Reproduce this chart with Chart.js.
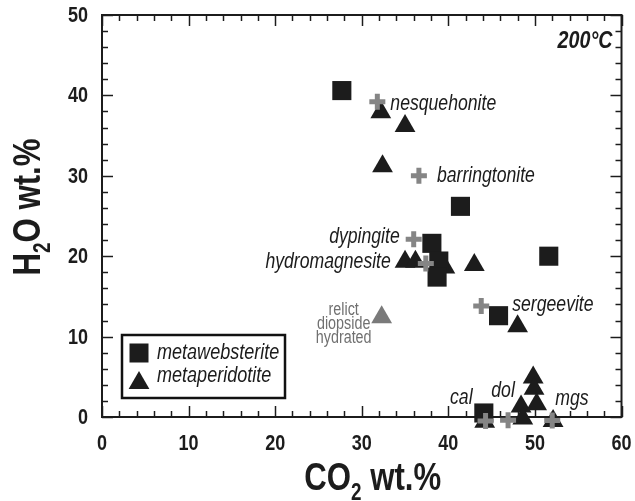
<!DOCTYPE html>
<html>
<head>
<meta charset="utf-8">
<script src="https://cdn.jsdelivr.net/npm/chart.js@4.4.0/dist/chart.umd.min.js"></script>
<style>
  html, body { margin: 0; padding: 0; background: #fff; }
</style>
</head>
<body>
<canvas id="chart" width="635" height="501"></canvas>
<script>
/* CO2 vs H2O, 200 °C run products */

// axis ranges / tick labels
const xTicks = [0, 10, 20, 30, 40, 50, 60];
const yTicks = [0, 10, 20, 30, 40, 50];
const minorStep = 2;

// metawebsterite (squares)
const websteriteCO2 = [27.7, 41.4, 38.1, 38.9, 38.7, 51.6, 45.8, 44.1];
const websteriteH2O = [40.6, 26.2, 21.6, 19.4, 17.4, 20.0, 12.6, 0.5];

// metaperidotite (triangles)
const peridotiteCO2 = [32.2, 35.0, 32.4, 35.0, 36.2, 39.6, 43.0, 48.0, 49.8, 49.9, 48.4, 48.6, 50.2, 52.1, 44.2];
const peridotiteH2O = [37.9, 36.2, 31.2, 19.3, 19.3, 18.6, 18.9, 11.3, 4.9, 3.5, 1.3, -0.2, 1.6, -0.5, -0.6];

// reference minerals (grey crosses)
const mineralNames = ['nesquehonite', 'barringtonite', 'dypingite', 'hydromagnesite', 'sergeevite', 'cal', 'dol', 'mgs'];
const mineralCO2 = [31.8, 36.6, 36.0, 37.4, 43.8, 44.3, 46.9, 52.0];
const mineralH2O = [39.2, 30.0, 22.1, 19.1, 13.8, -0.5, -0.4, -0.45];

// relict diopside, hydrated (grey triangle)
const relictCO2 = [32.3];
const relictH2O = [12.4];
const relictLines = ['relict', 'diopside', 'hydrated'];

const seriesNames = ['metawebsterite', 'metaperidotite'];
const tempLabel = '200°C';

// label placement relative to each cross (pixels)
const labelPos = {
  nesquehonite:   { dx: 13,  dy: 8,   align: 'left' },
  barringtonite:  { dx: 18,  dy: 6,   align: 'left' },
  dypingite:      { dx: -14, dy: 4,   align: 'right' },
  hydromagnesite: { dx: -35, dy: 5,   align: 'right' },
  sergeevite:     { dx: 31,  dy: 5,   align: 'left' },
  cal:            { dx: -13, dy: -17, align: 'right' },
  dol:            { dx: -5,  dy: -23, align: 'center' },
  mgs:            { dx: 3,   dy: -16, align: 'left' },
};

const FONT = "'Liberation Sans',Arial,sans-serif";
const NARROW = 0.82;   // Helvetica-narrow look
const INK = '#1c1c1c';
const GREY = '#858585';

function pts(xs, ys){ return xs.map((x, i) => ({ x, y: ys[i] })); }

// condensed text: squeeze horizontally around the anchor
function nText(ctx, text, x, y, align, base){
  ctx.save();
  ctx.translate(x, y);
  ctx.scale(NARROW, 1);
  ctx.textAlign = align || 'left';
  ctx.textBaseline = base || 'alphabetic';
  ctx.fillText(text, 0, 0);
  ctx.restore();
}

function drawSquare(ctx, x, y, side){
  ctx.fillRect(x - side/2, y - side/2, side, side);
}
function drawTri(ctx, x, y, r){
  ctx.beginPath();
  ctx.moveTo(x, y - r);
  ctx.lineTo(x + r*Math.sin(Math.PI/3), y + r/2);
  ctx.lineTo(x - r*Math.sin(Math.PI/3), y + r/2);
  ctx.closePath();
  ctx.fill();
}

// text with a subscript part: [main, sub, rest], centred on cx
function subText(ctx, parts, cx, base, big, small){
  ctx.font = `bold ${big}px ${FONT}`;
  const w0 = ctx.measureText(parts[0]).width * NARROW;
  const w2 = ctx.measureText(parts[2]).width * NARROW;
  ctx.font = `bold ${small}px ${FONT}`;
  const w1 = ctx.measureText(parts[1]).width * NARROW;
  let x = cx - (w0 + w1 + w2)/2;
  ctx.font = `bold ${big}px ${FONT}`;
  nText(ctx, parts[0], x, base); x += w0;
  ctx.font = `bold ${small}px ${FONT}`;
  nText(ctx, parts[1], x, base + 10); x += w1;
  ctx.font = `bold ${big}px ${FONT}`;
  nText(ctx, parts[2], x, base);
}

const framePlugin = {
  id: 'frame',
  beforeDatasetsDraw(chart){
    const { ctx, chartArea: a, scales: { x: xs, y: ys } } = chart;
    ctx.save();
    ctx.strokeStyle = INK;
    ctx.lineWidth = 1.5;
    const line = (x1, y1, x2, y2) => { ctx.beginPath(); ctx.moveTo(x1, y1); ctx.lineTo(x2, y2); ctx.stroke(); };
    const xMax = xTicks[xTicks.length-1], yMax = yTicks[yTicks.length-1];
    const xMajor = xTicks[1] - xTicks[0], yMajor = yTicks[1] - yTicks[0];
    for (let v = xTicks[0]; v <= xMax; v += minorStep) {
      const len = v % xMajor === 0 ? 11 : 6;
      const p = Math.round(xs.getPixelForValue(v)) + 0.5;
      line(p, a.bottom, p, a.bottom - len);
      line(p, a.top, p, a.top + len);
    }
    for (let v = yTicks[0]; v <= yMax; v += minorStep) {
      const len = v % yMajor === 0 ? 11 : 6;
      const p = Math.round(ys.getPixelForValue(v)) + 0.5;
      line(a.left, p, a.left + len, p);
      line(a.right, p, a.right - len, p);
    }
    ctx.lineWidth = 2;
    ctx.strokeRect(a.left, a.top, a.right - a.left, a.bottom - a.top);

    // tick labels
    ctx.fillStyle = INK;
    ctx.font = `bold 22px ${FONT}`;
    xTicks.forEach(v => nText(ctx, String(v), xs.getPixelForValue(v), a.bottom + 33, 'center'));
    yTicks.forEach(v => nText(ctx, String(v), a.left - 14, ys.getPixelForValue(v) + 1, 'right', 'middle'));
    ctx.restore();
  },
  afterDatasetsDraw(chart){
    const { ctx, chartArea: a, scales: { x: xs, y: ys } } = chart;
    ctx.save();
    // mineral labels
    ctx.fillStyle = INK;
    ctx.font = `italic 21.5px ${FONT}`;
    mineralNames.forEach((name, i) => {
      const p = labelPos[name];
      nText(ctx, name, xs.getPixelForValue(mineralCO2[i]) + p.dx, ys.getPixelForValue(mineralH2O[i]) + p.dy, p.align);
    });
    // relict label
    ctx.fillStyle = '#707070';
    ctx.font = `17.5px ${FONT}`;
    const rx = xs.getPixelForValue(relictCO2[0]) - 38, ry = ys.getPixelForValue(relictH2O[0]);
    relictLines.forEach((t, i) => nText(ctx, t, rx, ry - 2 + i*14, 'center'));
    // temperature
    ctx.fillStyle = INK;
    ctx.font = `bold italic 24px ${FONT}`;
    nText(ctx, tempLabel, a.right - 9, a.top + 33, 'right');
    // legend
    const lx = a.left + 20, ly = a.top + 320;
    ctx.lineWidth = 2.5;
    ctx.strokeStyle = '#111';
    ctx.fillStyle = '#fff';
    ctx.fillRect(lx, ly, 163, 63);
    ctx.strokeRect(lx, ly, 163, 63);
    ctx.fillStyle = INK;
    drawSquare(ctx, lx + 17, ly + 18, 19);
    drawTri(ctx, lx + 17, ly + 48, 12);
    ctx.font = `italic 22px ${FONT}`;
    nText(ctx, seriesNames[0], lx + 35, ly + 24);
    nText(ctx, seriesNames[1], lx + 35, ly + 47);
    ctx.restore();
  },
  afterDraw(chart){
    const { ctx, chartArea: a } = chart;
    ctx.save();
    ctx.fillStyle = INK;
    subText(ctx, ['CO', '2', ' wt.%'], (a.left + a.right)/2 + 11, 490, 38, 23);
    ctx.translate(40, (a.top + a.bottom)/2 - 9);
    ctx.rotate(-Math.PI/2);
    subText(ctx, ['H', '2', 'O wt.%'], 0, 0, 38, 23);
    ctx.restore();
  }
};

new Chart(document.getElementById('chart'), {
  type: 'scatter',
  data: {
    datasets: [
      { label: 'minerals', data: pts(mineralCO2, mineralH2O), pointStyle: 'cross',
        pointRadius: 8, pointBorderWidth: 5, pointBorderColor: GREY, clip: false, order: 0 },
      { label: seriesNames[0], data: pts(websteriteCO2, websteriteH2O), pointStyle: 'rect',
        pointRadius: 13.5, pointBorderWidth: 0, pointBackgroundColor: INK, clip: false, order: 1 },
      { label: seriesNames[1], data: pts(peridotiteCO2, peridotiteH2O), pointStyle: 'triangle',
        pointRadius: 12, pointBorderWidth: 0, pointBackgroundColor: INK, clip: false, order: 2 },
      { label: 'relict diopside hydrated', data: pts(relictCO2, relictH2O), pointStyle: 'triangle',
        pointRadius: 12, pointBorderWidth: 0, pointBackgroundColor: '#7a7a7a', clip: false, order: 3 },
    ]
  },
  options: {
    responsive: false,
    animation: false,
    devicePixelRatio: 1,
    layout: { padding: { top: 15, right: 13, left: 0, bottom: 0 } },
    plugins: { legend: { display: false }, tooltip: { enabled: false } },
    events: [],
    scales: {
      x: {
        type: 'linear', min: xTicks[0], max: xTicks[xTicks.length-1],
        ticks: { display: false, stepSize: 10 },
        grid: { display: false, drawTicks: false }, border: { display: false },
        afterFit(s){ s.height = 84; }
      },
      y: {
        type: 'linear', min: yTicks[0], max: yTicks[yTicks.length-1],
        ticks: { display: false, stepSize: 10 },
        grid: { display: false, drawTicks: false }, border: { display: false },
        afterFit(s){ s.width = 102; }
      }
    }
  },
  plugins: [framePlugin]
});
</script>
</body>
</html>
